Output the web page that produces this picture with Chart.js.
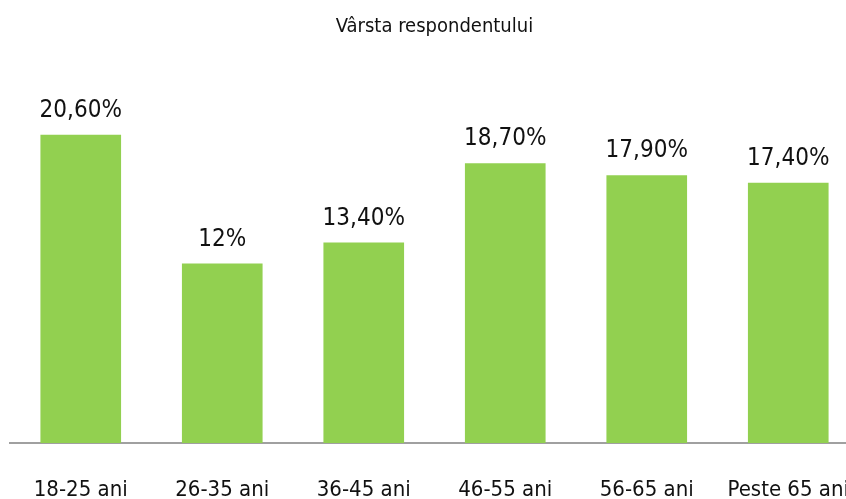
<!DOCTYPE html>
<html>
<head>
<meta charset="utf-8">
<script src="https://cdn.jsdelivr.net/npm/chart.js@4.4.1/dist/chart.umd.min.js"></script>
<style>
    html, body { margin: 0; padding: 0; background: #fff; overflow: hidden; }
    #wrap { position: relative; width: 860px; height: 499px; }
</style>
</head>
<body>
<div id="wrap"><canvas id="age-chart"></canvas></div>
<script>
// Age groups of respondents (percent)
const categories = ['18-25 ani', '26-35 ani', '36-45 ani', '46-55 ani', '56-65 ani', 'Peste 65 ani'];
const shares = [20.6, 12, 13.4, 18.7, 17.9, 17.4];

const FONT = '"Liberation Sans Narrow", "DejaVu Sans Condensed", "Arial Narrow", sans-serif';

// "20,60%" style labels, whole numbers without decimals
function formatShare(v) {
    if (Number.isInteger(v)) return v + '%';
    return v.toFixed(2).replace('.', ',') + '%';
}

// Value labels above each bar
const barLabels = {
    id: 'barLabels',
    afterDatasetsDraw(chart) {
        const ctx = chart.ctx;
        const meta = chart.getDatasetMeta(0);
        ctx.save();
        ctx.font = '24px ' + FONT;
        ctx.fillStyle = '#111';
        ctx.textAlign = 'center';
        ctx.textBaseline = 'bottom';
        meta.data.forEach(function(bar, i) {
            ctx.fillText(formatShare(shares[i]), bar.x, bar.y - 12);
        });
        ctx.restore();
    }
};

const ctx = document.getElementById('age-chart').getContext('2d');
new Chart(ctx, {
    type: 'bar',
    data: {
        labels: categories,
        datasets: [{
            data: shares,
            backgroundColor: '#92D050',
            borderWidth: 0,
            barPercentage: 0.57,
            categoryPercentage: 1
        }]
    },
    options: {
        responsive: true,
        maintainAspectRatio: false,
        animation: false,
        layout: { padding: { left: 10, right: 1, top: 0, bottom: 0 } },
        plugins: {
            legend: { display: false },
            tooltip: { enabled: false },
            title: {
                display: true,
                text: 'Vârsta respondentului',
                color: '#111',
                font: { family: FONT, size: 20, weight: 'normal' },
                padding: { top: 15, bottom: 30 }
            }
        },
        scales: {
            x: {
                grid: { display: false },
                border: { display: true, color: '#a0a0a0', width: 2 },
                ticks: {
                    color: '#111',
                    font: { family: FONT, size: 22 },
                    padding: 26,
                    maxRotation: 0,
                    autoSkip: false
                },
                afterFit(scale) {
                    // keep the bars evenly spread; the last label may run off the edge
                    scale.height = 56;
                    scale.paddingLeft = 0;
                    scale.paddingRight = 0;
                }
            },
            y: {
                display: false,
                min: 0,
                max: 25
            }
        }
    },
    plugins: [barLabels]
});
</script>
</body>
</html>
